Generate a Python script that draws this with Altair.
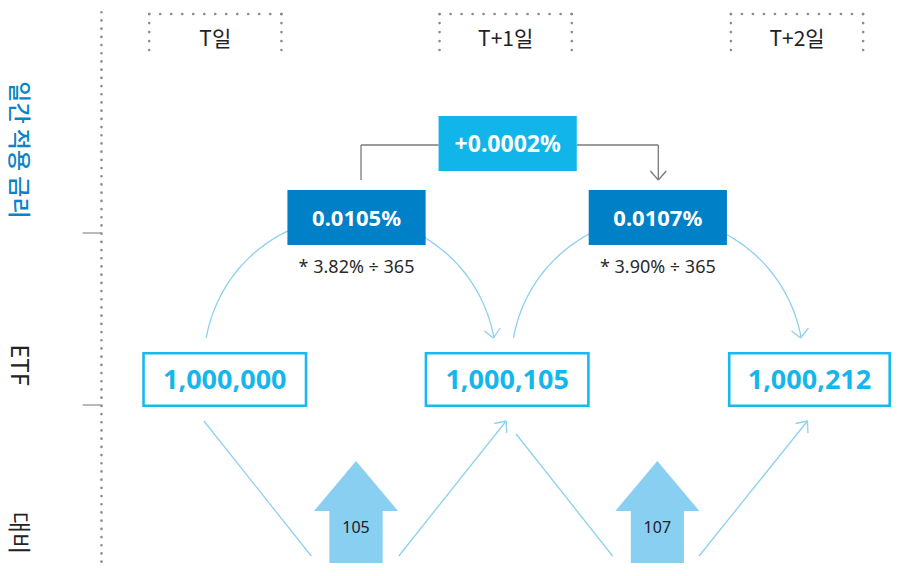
import altair as alt
import numpy as np
import pandas as pd

# ---------------- content ----------------
days = ["T일", "T+1일", "T+2일"]
row_labels = ["일간 적용 금리", "ETF", "대비"]
row_label_colors = ["#0b83c6", "#222222", "#222222"]
etf_values = [1000000, 1000105, 1000212]
daily_rates = ["0.0105%", "0.0107%"]
rate_notes = ["* 3.82% ÷ 365", "* 3.90% ÷ 365"]
rate_change = ["+0.0002%"]
increments = [105, 107]

# ---------------- layout (diagram geometry, screen px) ----------------
hdr_x0 = [150, 442, 735]
hdr_x1 = [283, 575, 868]
hdr_top, hdr_bot, hdr_text_y = 14, 50, 40

etf_x0 = [143, 427, 732]
etf_x1 = [309, 593, 896]
etf_y0, etf_y1 = 352, 407

rate_x0 = [289, 592]
rate_x1 = [428, 731]
rate_y0, rate_y1 = 190, 245
note_y = 268

chg_x0, chg_x1, chg_y0, chg_y1 = 441, 580, 116, 171

arrow_cx = [358, 661]
arrow_tip, arrow_base, arrow_bottom = 461, 511, 563
arrow_head_half, arrow_shaft_half = 42, 26.5
arrow_text_y = 528

label_x = 18
label_y = [150, 365, 533]
label_size = [23, 24, 23]
label_weight = [500, 400, 400]

arc_cx = [352, 661]
arc_cy, arc_r, arc_span = 364, 147, 79.8

FONT = "Noto Sans, Noto Sans CJK KR"
KFONT = "Noto Sans CJK KR"

W, H = 883, 556
xs = alt.Scale(domain=[8, 896], nice=False, zero=False)
ys = alt.Scale(domain=[8, 8 + H], nice=False, zero=False, reverse=True)


def X(f):
    return alt.X(f, type="quantitative", scale=xs, axis=None)


def Y(f):
    return alt.Y(f, type="quantitative", scale=ys, axis=None)


def X2(f):
    return alt.X2(f)


def Y2(f):
    return alt.Y2(f)


def rules(df, **kw):
    return alt.Chart(df).mark_rule(**kw).encode(
        x=X("x"), y=Y("y"), x2=X2("x2"), y2=Y2("y2"))


# ---- dotted guides ----
vline = pd.DataFrame({"x": [102], "y": [4], "x2": [102], "y2": [580]})
hdr_tops = pd.DataFrame({"x": hdr_x0, "x2": hdr_x1, "y": [hdr_top] * 3, "y2": [hdr_top] * 3})
hdr_sides = pd.DataFrame({"x": hdr_x0 + hdr_x1, "x2": hdr_x0 + hdr_x1,
                          "y": [hdr_top] * 6, "y2": [hdr_bot] * 6})
dot_style = dict(color="#8c8c8c", strokeWidth=2.6, strokeCap="round")
l_vline = rules(vline, strokeDash=[0.1, 8.1], **dot_style)
l_tops = rules(hdr_tops, strokeDash=[0.1, 10.9], **dot_style)
l_sides = rules(hdr_sides, strokeDash=[0.1, 8.9], **dot_style)

ticks = pd.DataFrame({"x": [83, 83], "x2": [102, 102], "y": [233, 405], "y2": [233, 405]})
l_ticks = rules(ticks, color="#8c8c8c", strokeWidth=1.2)

# ---- gray connector with arrow ----
conn = pd.DataFrame({
    "x":  [363, 363, 580, 662, 654, 670],
    "y":  [180, 145, 145, 145, 171, 171],
    "x2": [363, 441, 662, 662, 662, 662],
    "y2": [145, 145, 145, 180, 180, 180],
})
l_conn = rules(conn, color="#7a7a7a", strokeWidth=1.3)

# ---- arcs ----
arc_rows = []
ang = np.radians(np.linspace(-arc_span, arc_span, 80))
for i, cx in enumerate(arc_cx):
    for k, a in enumerate(ang):
        arc_rows.append({"arc": i, "o": k, "x": cx + arc_r * np.sin(a),
                         "y": arc_cy - arc_r * np.cos(a)})
arcs = pd.DataFrame(arc_rows)
l_arcs = alt.Chart(arcs).mark_line(color="#8dd0f0", strokeWidth=1.3).encode(
    x=X("x"), y=Y("y"), detail="arc:N", order="o:Q")

arc_heads = pd.DataFrame({
    "x":  [487, 503, 796, 813],
    "y":  [331, 328, 331, 328],
    "x2": [496, 496, 805, 805],
    "y2": [338, 338, 338, 338],
})
l_arc_heads = rules(arc_heads, color="#8dd0f0", strokeWidth=1.3)

# ---- diagonal lines ----
diag = pd.DataFrame({
    "x":  [205, 401, 519, 703, 497, 509.5, 800, 812.5],
    "y":  [421, 556, 434, 556, 423.5, 433, 423.5, 433],
    "x2": [313, 509, 616, 812, 509, 509, 812, 812],
    "y2": [556, 421, 556, 421, 421, 421, 421, 421],
})
l_diag = rules(diag, color="#8dd0f0", strokeWidth=1.3)

# ---- up arrows (custom symbol, box [-1,1] scaled to arrow height) ----
arrow_h = arrow_bottom - arrow_tip
unit = arrow_h / 2.0
hb = (arrow_base - (arrow_tip + unit)) / unit
hh = arrow_head_half / unit
sh = arrow_shaft_half / unit
arrow_path = (f"M0,-1L{hh:.4f},{hb:.4f}L{sh:.4f},{hb:.4f}L{sh:.4f},1"
              f"L{-sh:.4f},1L{-sh:.4f},{hb:.4f}L{-hh:.4f},{hb:.4f}Z")
arrows = pd.DataFrame({"x": arrow_cx, "y": [arrow_tip + unit] * 2})
l_arrows = alt.Chart(arrows).mark_point(
    shape=arrow_path, size=arrow_h ** 2, filled=True, fill="#88cff2",
    opacity=1, strokeWidth=0).encode(x=X("x"), y=Y("y"))

shafts = pd.DataFrame({
    "x": [c - arrow_shaft_half for c in arrow_cx],
    "x2": [c + arrow_shaft_half for c in arrow_cx],
    "y": [arrow_base] * 2, "y2": [arrow_bottom] * 2,
})
l_shafts = alt.Chart(shafts).mark_rect(color="#88cff2").encode(
    x=X("x"), x2=X2("x2"), y=Y("y"), y2=Y2("y2"))

# ---- boxes ----
chg_box = pd.DataFrame({"x": [chg_x0], "x2": [chg_x1], "y": [chg_y0], "y2": [chg_y1]})
rate_box = pd.DataFrame({"x": rate_x0, "x2": rate_x1, "y": [rate_y0] * 2, "y2": [rate_y1] * 2})
etf_box = pd.DataFrame({"x": [a + 1.3 for a in etf_x0], "x2": [b - 1.3 for b in etf_x1],
                        "y": [etf_y0 + 1.3] * 3, "y2": [etf_y1 - 1.3] * 3})


def box(df, **kw):
    return alt.Chart(df).mark_rect(**kw).encode(
        x=X("x"), x2=X2("x2"), y=Y("y"), y2=Y2("y2"))


l_chg = box(chg_box, color="#12b5ea")
l_rate = box(rate_box, color="#0080c6")
l_etf = box(etf_box, fill="white", stroke="#17b9ee", strokeWidth=2.6)


# ---- texts ----
def txt(df, **kw):
    return alt.Chart(df).mark_text(align="center", baseline="middle", **kw).encode(
        x=X("cx"), y=Y("cy"), text="t:N")


chg_t = pd.DataFrame({"cx": [(chg_x0 + chg_x1) / 2], "cy": [(chg_y0 + chg_y1) / 2 + 1],
                      "t": rate_change})
rate_t = pd.DataFrame({"cx": [(a + b) / 2 for a, b in zip(rate_x0, rate_x1)],
                       "cy": [(rate_y0 + rate_y1) / 2 + 1] * 2, "t": daily_rates})
note_t = pd.DataFrame({"cx": [(a + b) / 2 for a, b in zip(rate_x0, rate_x1)],
                       "cy": [note_y] * 2, "t": rate_notes})
etf_t = pd.DataFrame({"cx": [(a + b) / 2 for a, b in zip(etf_x0, etf_x1)],
                      "cy": [(etf_y0 + etf_y1) / 2 + 1] * 3,
                      "t": [f"{v:,}" for v in etf_values]})
inc_t = pd.DataFrame({"cx": arrow_cx, "cy": [arrow_text_y] * 2,
                      "t": [str(v) for v in increments]})
day_t = pd.DataFrame({"cx": [(a + b) / 2 for a, b in zip(hdr_x0, hdr_x1)],
                      "cy": [hdr_text_y] * 3, "t": days})
lab_t = pd.DataFrame({"cx": [label_x] * 3, "cy": label_y, "t": row_labels,
                      "c": row_label_colors, "s": label_size, "w": label_weight})

l_chg_t = txt(chg_t, font=FONT, fontSize=23, fontWeight="bold", color="white")
l_rate_t = txt(rate_t, font=FONT, fontSize=22, fontWeight="bold", color="white")
l_note_t = txt(note_t, font=FONT, fontSize=18, color="#2a2a2a")
l_etf_t = txt(etf_t, font=FONT, fontSize=27, fontWeight="bold", color="#14b6ec")
l_inc_t = txt(inc_t, font=FONT, fontSize=16, color="#222222")
l_day_t = txt(day_t, font=KFONT, fontSize=21, color="#222222")

lab_layers = []
for w in sorted(set(label_weight)):
    sub = lab_t[lab_t["w"] == w]
    lab_layers.append(
        alt.Chart(sub).mark_text(align="center", baseline="middle", angle=90,
                                 font=KFONT, fontWeight=int(w)).encode(
            x=X("cx"), y=Y("cy"), text="t:N", color=alt.Color("c:N", scale=None),
            size=alt.Size("s:Q", scale=None)))

chart = alt.layer(
    l_vline, l_tops, l_sides, l_ticks,
    l_arcs, l_arc_heads, l_diag,
    l_arrows, l_shafts,
    l_conn,
    l_chg, l_rate, l_etf,
    l_chg_t, l_rate_t, l_note_t, l_etf_t, l_inc_t, l_day_t, *lab_layers,
).properties(
    width=W, height=H, padding=0, autosize="none", background="white"
).configure_view(stroke=None)

chart.save("out.html", embed_options={"renderer": "svg", "actions": False})
